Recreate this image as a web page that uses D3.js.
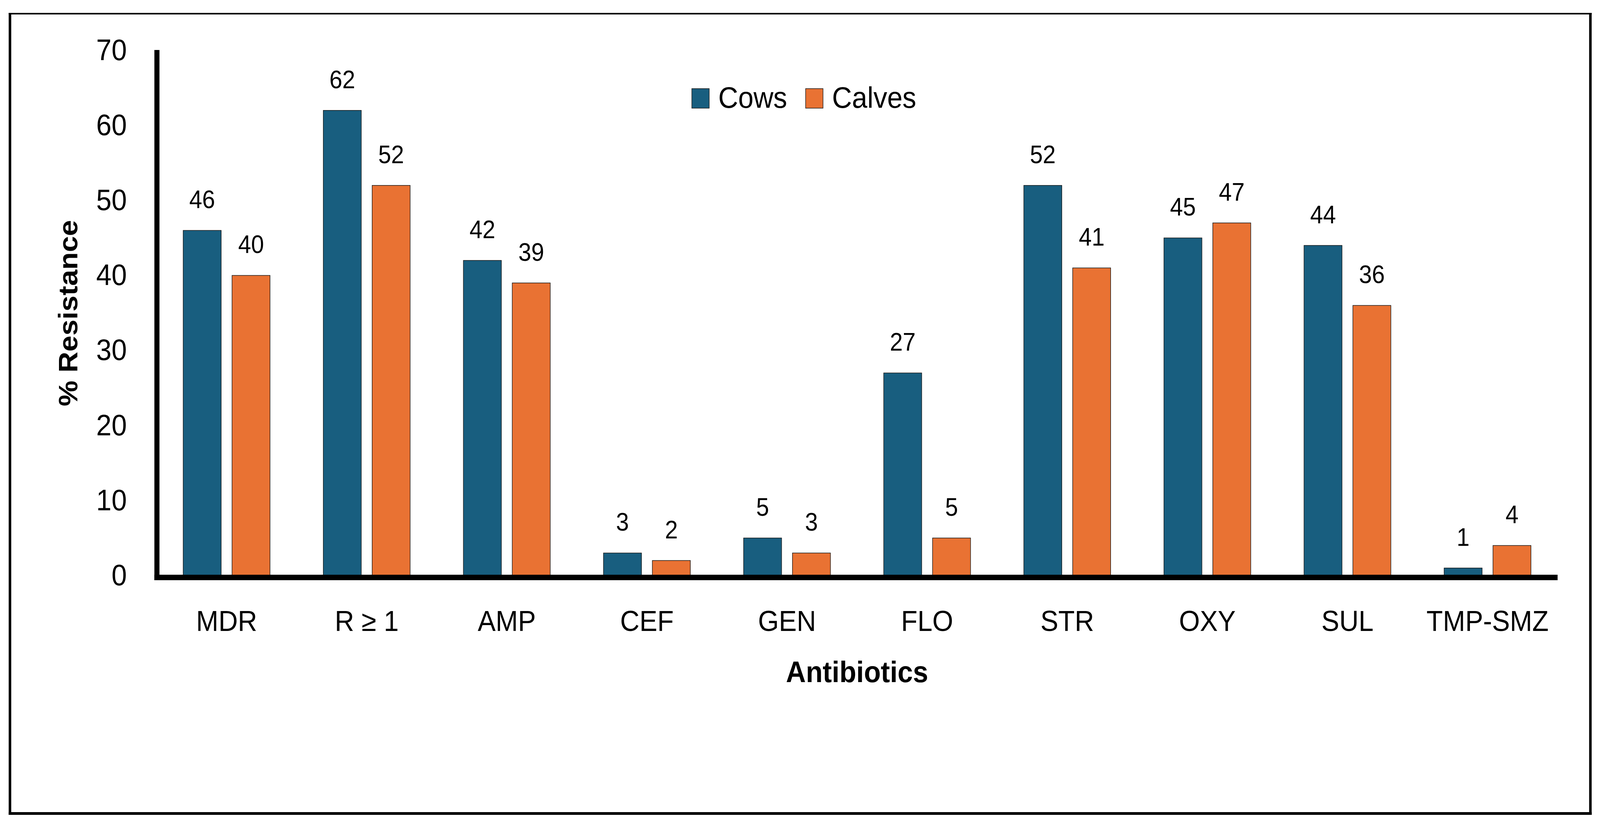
<!DOCTYPE html>
<html>
<head>
<meta charset="utf-8">
<script src="https://cdn.jsdelivr.net/npm/d3@7"></script>
<style>
  html, body { margin: 0; padding: 0; background: #fff; overflow: hidden; }
  #chart svg { display: block; width: 100vw; height: 100vh; }
  text { font-family: 'Liberation Sans', Arial, sans-serif; fill: #000; }
</style>
</head>
<body>
<div id="chart"></div>
<script>
const antibiotics = ['MDR', 'R \u2265 1', 'AMP', 'CEF', 'GEN', 'FLO', 'STR', 'OXY', 'SUL', 'TMP-SMZ']
const series = ['Cows', 'Calves']
const cows = [46, 62, 42, 3, 5, 27, 52, 45, 44, 1]
const calves = [40, 52, 39, 2, 3, 5, 41, 47, 36, 4]
const yTicks = [0, 10, 20, 30, 40, 50, 60, 70]
const colors = ['#185e7f', '#e97233']

const width = 4415
const height = 2113

// drawn in a fixed 4415x2113 coordinate space, scaled to the window
const svg = d3
  .select('#chart')
  .append('svg')
  .attr('viewBox', '0 0 ' + width + ' ' + height)
  .attr('preserveAspectRatio', 'none')

// outer frame (top edge is thinner in the original)
svg.append('line').attr('x1', 24).attr('x2', 4392).attr('y1', 35).attr('y2', 35)
  .attr('stroke', '#000').attr('stroke-width', 4)
svg.append('line').attr('x1', 27.5).attr('x2', 27.5).attr('y1', 33).attr('y2', 2087)
  .attr('stroke', '#000').attr('stroke-width', 7)
svg.append('line').attr('x1', 4388.5).attr('x2', 4388.5).attr('y1', 33).attr('y2', 2087)
  .attr('stroke', '#000').attr('stroke-width', 7)
svg.append('line').attr('x1', 24).attr('x2', 4392).attr('y1', 2083.5).attr('y2', 2083.5)
  .attr('stroke', '#000').attr('stroke-width', 7)

const xScale = d3
  .scaleBand()
  .domain(antibiotics)
  .range([432, 4298])
  .padding(0)

const xSub = d3
  .scaleBand()
  .domain(series)
  .range([0, xScale.bandwidth()])
  .paddingInner(0.222)
  .paddingOuter(0.545)

const yScale = d3
  .scaleLinear()
  .domain([0, 70])
  .range([1474, 129])

const rows = antibiotics.map((name, i) => ({
  name: name,
  values: [
    { key: 'Cows', value: cows[i] },
    { key: 'Calves', value: calves[i] }
  ]
}))

const groups = svg
  .selectAll('.group')
  .data(rows)
  .enter()
  .append('g')
  .attr('class', 'group')
  .attr('transform', d => 'translate(' + xScale(d.name) + ',0)')

groups
  .selectAll('rect')
  .data(d => d.values)
  .enter()
  .append('rect')
  .attr('x', d => xSub(d.key))
  .attr('y', d => yScale(d.value))
  .attr('width', xSub.bandwidth())
  .attr('height', d => yScale(0) - yScale(d.value))
  .attr('fill', (d, i) => colors[i])
  .attr('stroke', '#1a1a1a')
  .attr('stroke-width', 1.5)

groups
  .selectAll('.bar-label')
  .data(d => d.values)
  .enter()
  .append('text')
  .attr('class', 'bar-label')
  .attr('x', d => xSub(d.key) + xSub.bandwidth() / 2)
  .attr('y', d => yScale(d.value) - 57)
  .attr('text-anchor', 'middle')
  .attr('font-size', 64)
  .text(d => d.value)

// y axis
const yAxis = d3.axisLeft(yScale).tickValues(yTicks).tickSize(0).tickSizeOuter(0).tickPadding(83)
svg
  .append('g')
  .attr('class', 'axis y-axis')
  .attr('transform', 'translate(433,0)')
  .call(yAxis)

svg.selectAll('.y-axis text')
  .attr('font-size', 76)
  .attr('font-family', "'Liberation Sans', Arial, sans-serif")
svg.select('.y-axis .domain')
  .attr('stroke', '#000')
  .attr('stroke-width', 14)
  .attr('d', 'M0,' + (yScale(70) - 1) + 'V1486')

// x axis
const xAxis = d3.axisBottom(xScale).tickSize(0).tickSizeOuter(0).tickPadding(84)
svg
  .append('g')
  .attr('class', 'axis x-axis')
  .attr('transform', 'translate(0,1479)')
  .call(xAxis)

svg.selectAll('.x-axis text')
  .attr('font-size', 74)
  .attr('font-family', "'Liberation Sans', Arial, sans-serif")
svg.select('.x-axis .domain')
  .attr('stroke', '#000')
  .attr('stroke-width', 14)
  .attr('d', 'M426,0H4298')

// axis titles
svg
  .append('text')
  .attr('x', 2365)
  .attr('y', 1747)
  .attr('text-anchor', 'middle')
  .attr('font-size', 76)
  .attr('font-weight', 'bold')
  .text('Antibiotics')

svg
  .append('text')
  .attr('transform', 'translate(213,802) rotate(-90)')
  .attr('text-anchor', 'middle')
  .attr('font-size', 74)
  .attr('font-weight', 'bold')
  .text('% Resistance')

// legend
const legend = svg
  .selectAll('.legend')
  .data(series)
  .enter()
  .append('g')
  .attr('class', 'legend')
  .attr('transform', (d, i) => 'translate(' + (1909 + i * 314) + ',227)')

legend
  .append('rect')
  .attr('width', 48)
  .attr('height', 50)
  .attr('fill', (d, i) => colors[i])
  .attr('stroke', '#1a1a1a')
  .attr('stroke-width', 1.5)

legend
  .append('text')
  .attr('x', 73)
  .attr('y', 49)
  .attr('font-size', 76)
  .text(d => d)
</script>
</body>
</html>
